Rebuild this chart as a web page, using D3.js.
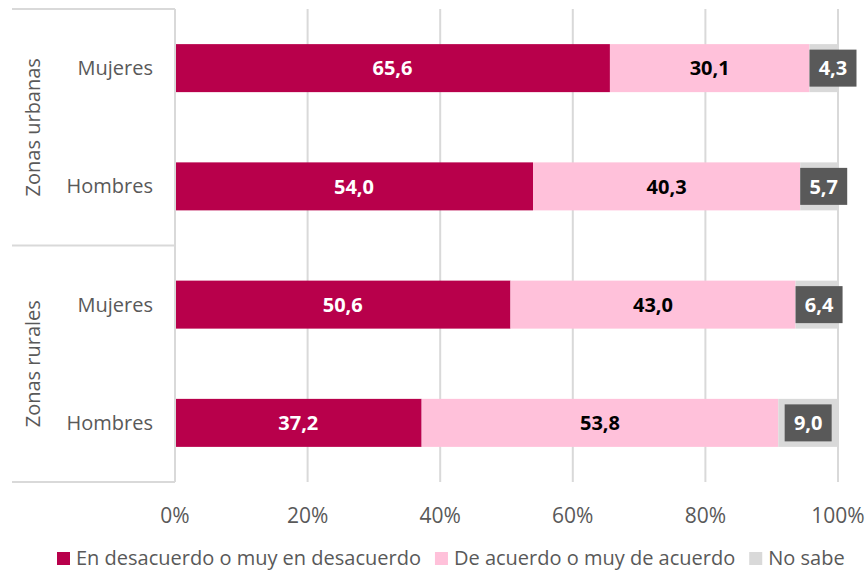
<!DOCTYPE html>
<html><head><meta charset="utf-8">
<script src="https://cdn.jsdelivr.net/npm/d3@7"></script>
<style>
body{margin:0;background:#fff;}
text{font-family:"Open Sans",sans-serif;}
</style></head>
<body><svg id="c" width="868" height="572"></svg>
<script>
const groups = ["Zonas urbanas","Zonas rurales"];
const rows = ["Mujeres","Hombres","Mujeres","Hombres"];
const seriesNames = ["En desacuerdo o muy en desacuerdo","De acuerdo o muy de acuerdo","No sabe"];
const desacuerdo = [65.6,54.0,50.6,37.2];
const deAcuerdo = [30.1,40.3,43.0,53.8];
const noSabe = [4.3,5.7,6.4,9.0];
const ticks = [0,20,40,60,80,100];
const colors = ["#B8004B","#FFC1DA","#D9D9D9"];

const svg = d3.select("#c");
const L=175, R=838, T=9, B=482;
const FS=20;
const x = d3.scaleLinear().domain([0,100]).range([L,R]);
const y = d3.scaleBand().domain(d3.range(rows.length)).range([T,B]).paddingInner(0.594).paddingOuter(0.297);
const fmt = v => d3.format(".1f")(v).replace(".",",");

// gridlines
svg.append("g").selectAll("line").data(ticks.slice(1)).join("line")
  .attr("x1",d=>x(d)).attr("x2",d=>x(d)).attr("y1",T).attr("y2",B)
  .attr("stroke","#D9D9D9").attr("stroke-width",2);

// tick labels
svg.append("g").selectAll("text").data(ticks).join("text")
  .attr("x",d=>x(d)).attr("y",523).attr("text-anchor","middle")
  .attr("font-size",21).attr("fill","#595959").text(d=>d+"%");

// stacked data
const data = rows.map((r,i)=>({i, vals:[desacuerdo[i],deAcuerdo[i],noSabe[i]]}));
const segs = [];
data.forEach(d=>{let c=0; d.vals.forEach((v,k)=>{segs.push({i:d.i,k,v,x0:c,x1:c+v}); c+=v;});});

svg.append("g").selectAll("rect").data(segs).join("rect")
  .attr("x",d=>x(d.x0)).attr("width",d=>x(d.x1)-x(d.x0))
  .attr("y",d=>y(d.i)).attr("height",y.bandwidth())
  .attr("fill",d=>colors[d.k]);

// left axis frame lines
const ax = svg.append("g").attr("stroke","#D9D9D9").attr("stroke-width",2);
ax.append("line").attr("x1",L).attr("x2",L).attr("y1",T).attr("y2",B);
const gBounds = [T, (y(1)+y.bandwidth()+y(2))/2, B];
gBounds.forEach(v=>ax.append("line").attr("x1",12).attr("x2",L).attr("y1",v).attr("y2",v));

// category labels
svg.append("g").selectAll("text").data(rows).join("text")
  .attr("x",153).attr("y",(d,i)=>y(i)+y.bandwidth()/2).attr("dy","0.35em")
  .attr("text-anchor","end").attr("font-size",FS).attr("fill","#595959").text(d=>d);

// group labels
svg.append("g").selectAll("text").data(groups).join("text")
  .attr("transform",(d,g)=>{const cy=(gBounds[g]+gBounds[g+1])/2; return `translate(33,${cy}) rotate(-90)`;})
  .attr("dy","0.35em").attr("text-anchor","middle").attr("font-size",FS).attr("fill","#595959").text(d=>d);

// value labels
const lab = svg.append("g");
segs.forEach(d=>{
  const cy = y(d.i)+y.bandwidth()/2;
  if(d.k<2){
    lab.append("text").attr("x",(x(d.x0)+x(d.x1))/2).attr("y",cy).attr("dy","0.36em")
      .attr("text-anchor","middle").attr("font-size",FS).attr("font-weight","bold")
      .attr("fill",d.k===0?"#fff":"#000").text(fmt(d.v));
  } else {
    const w=47,h=37;
    const cx=(x(d.x0)+x(d.x1))/2;
    const bx=Math.max(x(d.x0), cx-w/2);
    lab.append("rect").attr("x",bx).attr("y",cy-h/2).attr("width",w).attr("height",h).attr("fill","#595959");
    lab.append("text").attr("x",bx+w/2).attr("y",cy).attr("dy","0.36em")
      .attr("text-anchor","middle").attr("font-size",FS).attr("font-weight","bold")
      .attr("fill","#fff").text(fmt(d.v));
  }
});

// legend
const leg = svg.append("g");
let lx = 57;
seriesNames.forEach((n,k)=>{
  leg.append("rect").attr("x",lx).attr("y",552).attr("width",13).attr("height",13).attr("fill",colors[k]);
  const t = leg.append("text").attr("x",lx+19).attr("y",565).attr("font-size",FS).attr("fill","#595959").text(n);
  lx += 19 + t.node().getComputedTextLength() + 14;
});
</script></body></html>
